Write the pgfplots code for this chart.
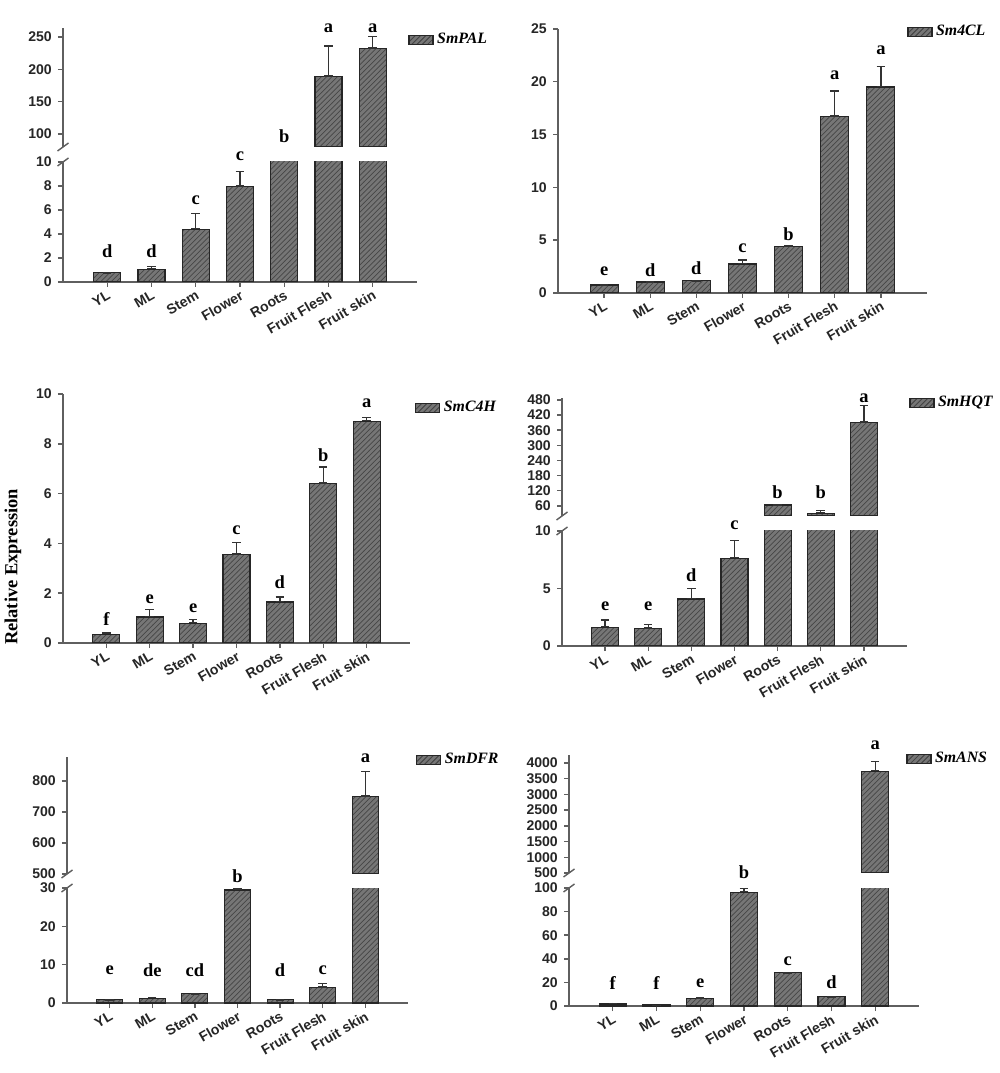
\documentclass[border=0pt]{standalone}
\usepackage{pgfplots}
\pgfplotsset{compat=1.18}
\usepackage{pgfplotstable}
\usepackage{fontspec}
\setmainfont{Liberation Serif}
\setsansfont{Liberation Sans}
\usetikzlibrary{patterns,arrows.meta}
\definecolor{barfill}{RGB}{118,118,118}
\definecolor{hatch}{RGB}{70,70,70}
\definecolor{axcol}{RGB}{95,95,95}
\newcommand\tickfont{\sffamily\bfseries\fontsize{8}{9}\selectfont}
\newcommand\letfont{\rmfamily\bfseries\fontsize{10.5}{12}\selectfont}
\newcommand\legfont{\rmfamily\bfseries\itshape\fontsize{9}{10}\selectfont}

\pgfplotstableread{
x y e
1 0.8 0.05
2 1.05 0.3
3 4.4 1.35
4 7.95 1.3
5 45 0.01
6 189 48
7 232 19.5
}\pI
\pgfplotstableread{
x y e
1 0.75 0.06
2 1.05 0.05
3 1.2 0.05
4 2.75 0.45
5 4.4 0.1
6 16.7 2.5
7 19.5 2.0
}\pII
\pgfplotstableread{
x y e
1 0.35 0.09
2 1.04 0.34
3 0.79 0.19
4 3.55 0.51
5 1.65 0.22
6 6.4 0.7
7 8.9 0.18
}\pIII
\pgfplotstableread{
x y e
1 1.62 0.7
2 1.5 0.41
3 4.09 0.98
4 7.62 1.6
5 64 2
6 31 13
7 390 70
}\pIV
\pgfplotstableread{
x y e
1 1.0 0.1
2 1.25 0.4
3 2.5 0.2
4 29.5 0.6
5 0.85 0.1
6 4.0 1.3
7 749 83
}\pV
\pgfplotstableread{
x y e
1 1.7 1.1
2 0.84 0.1
3 6.2 1.7
4 96.5 3.7
5 28.1 0.4
6 7.9 0.6
7 3733 340
}\pVI

\pgfplotsset{
  panel/.style={scale only axis, anchor=south west, xmin=0, xmax=8,
    axis line style={draw=axcol, line width=0.8pt, -},
    tick align=outside, major tick length=0.1cm,
    tick style={draw=axcol, line width=0.8pt},
    ticklabel style={font=\tickfont, text=black!85},
    /pgf/number format/assume math mode=true,
    /pgf/number format/1000 sep={},
    legend style={draw=none, fill=none, inner sep=0pt, anchor=west, font=\legfont, legend cell align=left}},
  lowpanel/.style={panel, axis x line*=bottom, axis y line*=left,
    xtick={1,...,7}, xticklabels={YL,ML,Stem,Flower,Roots,Fruit Flesh,Fruit skin},
    xticklabel style={rotate=30, anchor=north east, inner sep=1pt}},
  uppanel/.style={panel, axis x line=none, axis y line*=left},
  bars/.style={ybar, bar shift=0pt, bar width=#1, fill=barfill, draw=black!85, line width=0.7pt,
    postaction={pattern=north east lines, pattern color=hatch},
    legend image code/.code={\draw[fill=barfill, draw=black!85, line width=0.7pt, postaction={pattern=north east lines, pattern color=hatch}] (0cm,-0.09cm) rectangle (0.48cm,0.09cm);},
    error bars/.cd, y dir=plus, y explicit, error mark=none,
    error bar style={draw=black!80, line width=0.8pt, arrows={Bar[width=0.17cm]-Bar[width=0.17cm]}}},
  letters/.style={only marks, mark=none, nodes near coords, point meta=explicit symbolic,
    every node near coord/.append style={font=\letfont, anchor=center, text=black, inner sep=0pt}},
  lift/.style={every node near coord/.append style={yshift=#1}},
}

\begin{document}
\begin{tikzpicture}
\useasboundingbox (0,0) rectangle (20cm,21.46cm);

% ---------- Panel 1: SmPAL ----------
\begin{axis}[lowpanel, name=p1lo, at={(1.26cm,15.82cm)}, width=7.08cm, height=2.40cm,
  ymin=0, ymax=10, ytick={0,2,...,10}]
\addplot[bars=0.54cm] table[x=x,y=y,y error=e]{\pI};
\addplot[letters] table[x=x,y=y,meta=l]{
x y l
1 2.6 d
2 2.6 d
3 6.83 c
};
\addplot[letters, lift=0.13cm] table[x=x,y=y,meta=l]{
x y l
4 9.9 c
};
\end{axis}
\begin{axis}[uppanel, name=p1up, at={(1.26cm,18.52cm)}, width=7.08cm, height=2.38cm,
  ymin=80, ymax=264, ytick={100,150,200,250}, legend style={at={(0.975,0.899)}}]
\addplot[y filter/.expression={y<80 ? nan : y}, bars=0.54cm] table[x=x,y=y,y error=e]{\pI};
\addlegendentry{SmPAL}
\addplot[letters] table[x=x,y=y,meta=l]{
x y l
5 97 b
6 263 a
7 263 a
};
\end{axis}
\draw[axcol, line width=0.8pt] (p1up.south west) ++(-0.11,-0.08) -- ++(0.22,0.16);
\draw[axcol, line width=0.8pt] (p1lo.north west) ++(-0.11,-0.08) -- ++(0.22,0.16);

% ---------- Panel 2: Sm4CL ----------
\begin{axis}[lowpanel, name=p2, at={(11.16cm,15.60cm)}, width=7.38cm, height=5.28cm,
  ymin=0, ymax=25, ytick={0,5,...,25}, legend style={at={(0.946,0.989)}}]
\addplot[bars=0.56cm] table[x=x,y=y,y error=e]{\pII};
\addlegendentry{Sm4CL}
\addplot[letters] table[x=x,y=y,meta=l]{
x y l
1 2.05 e
2 2.2 d
3 2.37 d
4 4.26 c
5 5.58 b
6 20.66 a
7 23.0 a
};
\end{axis}

% ---------- Panel 3: SmC4H ----------
\begin{axis}[lowpanel, name=p3, at={(1.26cm,8.60cm)}, width=6.94cm, height=4.98cm,
  ymin=0, ymax=10, ytick={0,2,...,10}, legend style={at={(1.014,0.944)}}]
\addplot[bars=0.54cm] table[x=x,y=y,y error=e]{\pIII};
\addlegendentry{SmC4H}
\addplot[letters] table[x=x,y=y,meta=l]{
x y l
1 0.98 f
2 1.74 e
3 1.38 e
4 4.52 c
5 2.45 d
6 7.54 b
7 9.61 a
};
\end{axis}

% ---------- Panel 4: SmHQT ----------
\begin{axis}[lowpanel, name=p4lo, at={(11.24cm,8.54cm)}, width=6.90cm, height=2.30cm,
  ymin=0, ymax=10, ytick={0,5,10}]
\addplot[bars=0.54cm] table[x=x,y=y,y error=e]{\pIV};
\addplot[letters] table[x=x,y=y,meta=l]{
x y l
1 3.42 e
2 3.42 e
3 6.17 d
};
\addplot[letters, lift=0.13cm] table[x=x,y=y,meta=l]{
x y l
4 9.9 c
};
\end{axis}
\begin{axis}[uppanel, name=p4up, at={(11.24cm,11.14cm)}, width=6.90cm, height=2.36cm,
  ymin=20, ymax=487.5, ytick={60,120,...,480}, legend style={at={(1.006,0.958)}}]
\addplot[y filter/.expression={y<20 ? nan : y}, bars=0.54cm] table[x=x,y=y,y error=e]{\pIV};
\addlegendentry{SmHQT}
\addplot[letters] table[x=x,y=y,meta=l]{
x y l
5 116 b
6 116 b
7 486 a
};
\end{axis}
\draw[axcol, line width=0.8pt] (p4up.south west) ++(-0.11,-0.08) -- ++(0.22,0.16);
\draw[axcol, line width=0.8pt] (p4lo.north west) ++(-0.11,-0.08) -- ++(0.22,0.16);

% ---------- Panel 5: SmDFR ----------
\begin{axis}[lowpanel, name=p5lo, at={(1.34cm,1.40cm)}, width=6.82cm, height=2.30cm,
  ymin=0, ymax=30, ytick={0,10,20,30}]
\addplot[bars=0.52cm] table[x=x,y=y,y error=e]{\pV};
\addplot[letters] table[x=x,y=y,meta=l]{
x y l
1 8.5 e
2 8.5 de
3 8.5 cd
5 8.5 d
6 8.5 c
};
\addplot[letters, lift=0.24cm] table[x=x,y=y,meta=l]{
x y l
4 29.9 b
};
\end{axis}
\begin{axis}[uppanel, name=p5up, at={(1.34cm,3.98cm)}, width=6.82cm, height=2.34cm,
  ymin=500, ymax=877, ytick={500,600,700,800}, legend style={at={(1.023,0.974)}}]
\addplot[y filter/.expression={y<500 ? nan : y}, bars=0.52cm] table[x=x,y=y,y error=e]{\pV};
\addlegendentry{SmDFR}
\addplot[letters] table[x=x,y=y,meta=l]{
x y l
7 874 a
};
\end{axis}
\draw[axcol, line width=0.8pt] (p5up.south west) ++(-0.11,-0.08) -- ++(0.22,0.16);
\draw[axcol, line width=0.8pt] (p5lo.north west) ++(-0.11,-0.08) -- ++(0.22,0.16);

% ---------- Panel 6: SmANS ----------
\begin{axis}[lowpanel, name=p6lo, at={(11.38cm,1.34cm)}, width=7.00cm, height=2.36cm,
  ymin=0, ymax=100, ytick={0,20,...,100}]
\addplot[bars=0.54cm] table[x=x,y=y,y error=e]{\pVI};
\addplot[letters] table[x=x,y=y,meta=l]{
x y l
1 19.1 f
2 19.1 f
3 19.7 e
5 38.2 c
6 20.5 d
};
\addplot[letters, lift=0.33cm] table[x=x,y=y,meta=l]{
x y l
4 99 b
};
\end{axis}
\begin{axis}[uppanel, name=p6up, at={(11.38cm,4.00cm)}, width=7.00cm, height=2.36cm,
  ymin=500, ymax=4254, ytick={500,1000,...,4000}, legend style={at={(0.963,0.966)}}]
\addplot[y filter/.expression={y<500 ? nan : y}, bars=0.54cm] table[x=x,y=y,y error=e]{\pVI};
\addlegendentry{SmANS}
\addplot[letters, lift=0.2cm] table[x=x,y=y,meta=l]{
x y l
7 4250 a
};
\end{axis}
\draw[axcol, line width=0.8pt] (p6up.south west) ++(-0.11,-0.08) -- ++(0.22,0.16);
\draw[axcol, line width=0.8pt] (p6lo.north west) ++(-0.11,-0.08) -- ++(0.22,0.16);

\node[rotate=90, font=\rmfamily\bfseries\fontsize{10.5}{12}\selectfont] at (0.26cm,10.12cm) {Relative Expression};
\end{tikzpicture}
\end{document}
